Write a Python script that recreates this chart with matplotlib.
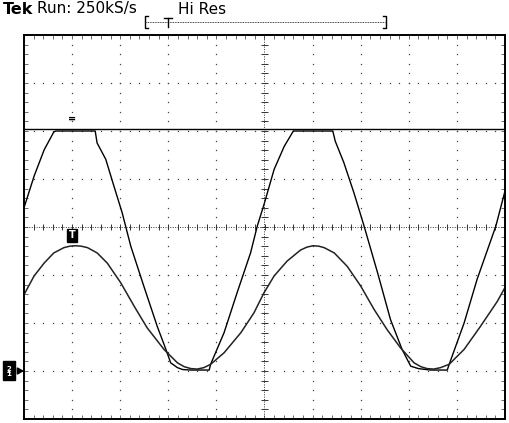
import numpy as np
import matplotlib.pyplot as plt

ref_level = 2.05

trap_x = [0.00, 0.21, 0.42, 0.62, 0.66, 1.48, 1.52, 1.70, 1.87, 2.04, 2.22, 2.49, 2.77,
          2.95, 3.05, 3.19, 3.30, 3.47, 3.85, 3.88, 4.16, 4.43, 4.71, 4.85, 4.99, 5.20,
          5.41, 5.60, 6.42, 6.47, 6.65, 6.86, 7.07, 7.35, 7.62, 7.86, 8.04, 8.20, 8.45,
          8.80, 8.84, 9.15, 9.42, 9.81, 10.0]
trap_y = [0.40, 1.06, 1.61, 1.98, 2.00, 2.00, 1.75, 1.41, 0.85, 0.30, -0.40, -1.23, -2.07,
          -2.55, -2.83, -2.93, -2.97, -2.98, -2.98, -2.86, -2.20, -1.37, -0.54, 0.02, 0.47, 1.20,
          1.68, 2.00, 2.00, 1.79, 1.34, 0.71, 0.02, -0.95, -1.93, -2.55, -2.90, -2.95, -2.98,
          -2.98, -2.86, -2.00, -1.09, 0.02, 0.75]

sine_x = [0.00, 0.21, 0.42, 0.62, 0.83, 0.95, 1.07, 1.19, 1.32, 1.52, 1.73, 2.01, 2.29, 2.56, 2.91,
          3.19, 3.33, 3.47, 3.60, 3.74, 3.88, 4.16, 4.51, 4.78, 4.99, 5.20, 5.47, 5.75, 5.88, 6.01,
          6.13, 6.24, 6.45, 6.72, 7.00, 7.28, 7.55, 7.83, 8.11, 8.25, 8.38, 8.52, 8.66, 8.84,
          9.15, 9.49, 9.84, 10.0]
sine_y = [-1.41, -1.02, -0.75, -0.54, -0.43, -0.40, -0.39, -0.40, -0.43, -0.54, -0.75, -1.16, -1.65,
          -2.10, -2.55, -2.83, -2.91, -2.95, -2.96, -2.93, -2.86, -2.62, -2.20, -1.79, -1.37, -1.02,
          -0.71, -0.48, -0.42, -0.39, -0.40, -0.43, -0.54, -0.82, -1.23, -1.72, -2.14, -2.52, -2.83,
          -2.91, -2.95, -2.96, -2.93, -2.86, -2.55, -2.07, -1.55, -1.26]

trig_pos = (1.0, -0.28)
cursor_pos = (1.0, 2.25)
ch_level = -3.0

W, H = 510, 423
fig = plt.figure(figsize=(W / 100, H / 100), dpi=100)
ax = fig.add_axes([24 / W, 4 / H, 481 / W, 384 / H])
ax.set_xlim(0, 10)
ax.set_ylim(-4, 4)
ax.set_xticks(range(11))
ax.set_yticks(range(-4, 5))
ax.set_xticks(np.arange(0, 10.01, 0.2), minor=True)
ax.set_yticks(np.arange(-4, 4.01, 0.2), minor=True)
ax.tick_params(which='both', direction='in', length=3, width=0.6, color='#555',
               top=True, right=True, labelbottom=False, labelleft=False)
for s in ax.spines.values():
    s.set_linewidth(1.4)

# dotted graticule
pts = np.arange(-3.8, 4.0, 0.2)
for gx in [1, 2, 3, 4, 6, 7, 8, 9]:
    ax.plot([gx] * len(pts), pts, ls='', marker='s', ms=0.9, mew=0, color='#444')
pts = np.arange(0.2, 10.0, 0.2)
for gy in [-3, -2, -1, 1, 2, 3]:
    ax.plot(pts, [gy] * len(pts), ls='', marker='s', ms=0.9, mew=0, color='#444')

# centre lines with ticks
ax.axhline(0, color='#333', lw=0.7, ls=(0, (1, 1.5)))
ax.axvline(5, color='#333', lw=0.7, ls=(0, (1, 1.5)))
tk = np.arange(0.2, 10.0, 0.2)
ax.vlines(tk, -0.06, 0.06, color='#333', lw=0.7)
tk = np.arange(-3.8, 4.0, 0.2)
ax.hlines(tk, 4.92, 5.08, color='#333', lw=0.7)

# traces
ax.axhline(ref_level, color='black', lw=1.0)
ax.plot(trap_x, trap_y, color='black', lw=1.0)
ax.plot(sine_x, sine_y, color='#222', lw=1.1)

ax.text(cursor_pos[0], cursor_pos[1], '=', ha='center', va='center', fontsize=7,
        fontweight='bold', color='black')
ax.text(trig_pos[0], trig_pos[1], 'T', ha='center', va='bottom', fontsize=7,
        fontweight='bold', color='white',
        bbox=dict(boxstyle='square,pad=0.15', fc='black', ec='black'))

# channel marker at left edge
tr = ax.get_yaxis_transform()
ax.text(-0.036, ch_level, '2\u0332\n1', transform=tr, ha='left', va='center',
        fontsize=5, fontweight='bold', color='white', linespacing=0.75, clip_on=False,
        bbox=dict(boxstyle='square,pad=0.5', fc='black', ec='black'))
ax.annotate('', xy=(0, ch_level), xycoords=tr, xytext=(-0.013, ch_level),
            textcoords=tr,
            arrowprops=dict(arrowstyle='-|>,head_length=0.35,head_width=0.2',
                            lw=1.2, color='black', shrinkA=0, shrinkB=0),
            annotation_clip=False)

# header
top = fig.add_axes([0, 0, 1, 1], zorder=-1)
top.set_xlim(0, W)
top.set_ylim(H, 0)
top.axis('off')
top.text(3, 13.5, 'Tek', fontsize=11.5, fontweight='bold', va='baseline')
top.text(37, 13.5, 'Run: 250kS/s', fontsize=11, va='baseline')
top.text(178, 13.5, 'Hi Res', fontsize=11, va='baseline')
top.plot([148, 145, 145, 148], [16, 16, 28, 28], color='black', lw=1.0)
top.plot([383, 386, 386, 383], [16, 16, 28, 28], color='black', lw=1.0)
top.plot([146, 385], [22.5, 22.5], color='black', lw=0.6, ls=(0, (1, 1)))
top.plot([164, 172], [18, 18], color='black', lw=1.0)
top.plot([168, 168], [18, 27], color='black', lw=1.0)

fig.savefig('out.png', dpi=100)
